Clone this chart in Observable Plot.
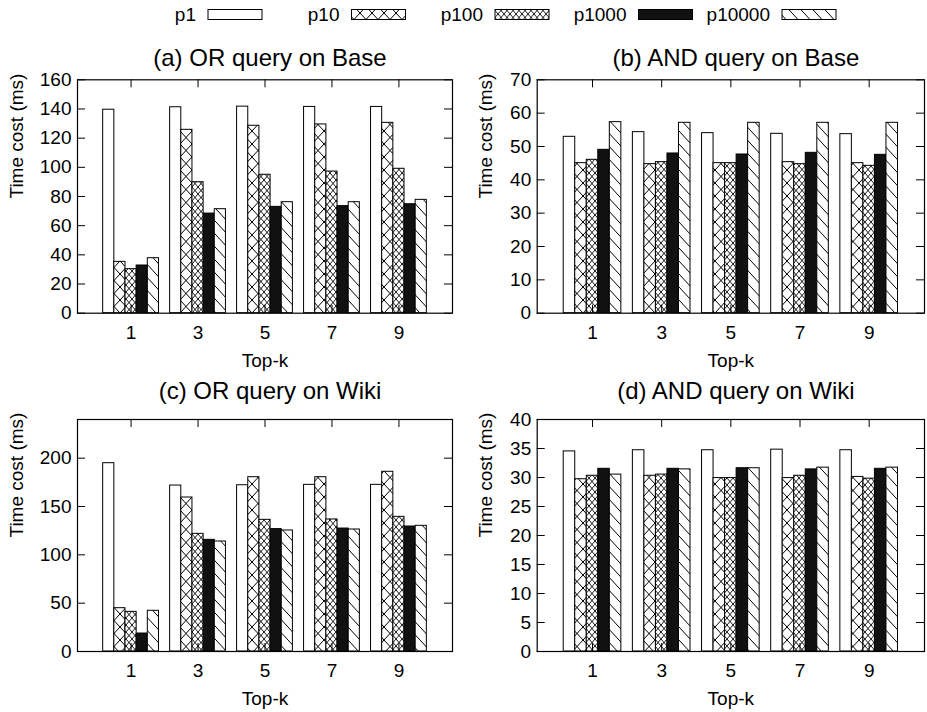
<!DOCTYPE html>
<html><head><meta charset="utf-8">
<script src="https://cdn.jsdelivr.net/npm/d3@7"></script>
<script src="https://cdn.jsdelivr.net/npm/@observablehq/plot@0.6"></script>
<style>
body{margin:0;background:#fff;}
#root{position:relative;width:927px;height:712px;font-family:"Liberation Sans",Arial,Helvetica,sans-serif;color:#000;}
#root svg{position:absolute;overflow:visible;}
</style></head><body><div id="root"></div>
<script>
// ---- data ----
const series = ["p1", "p10", "p100", "p1000", "p10000"];
const topK = ["1", "3", "5", "7", "9"];

// rows = series (p1..p10000), columns = top-k (1,3,5,7,9)
const orBase = [
  [139.5, 141.2, 141.6, 141.4, 141.4],
  [35.2, 125.7, 128.5, 129.4, 130.5],
  [30.2, 89.8, 94.9, 97.1, 99.0],
  [32.7, 68.3, 72.9, 73.4, 74.7],
  [37.7, 71.3, 76.1, 76.1, 77.7]
];
const andBase = [
  [52.9, 54.3, 54.0, 53.8, 53.7],
  [45.0, 44.7, 45.0, 45.3, 45.0],
  [46.0, 45.3, 45.0, 44.7, 44.2],
  [49.0, 47.9, 47.6, 48.1, 47.5],
  [57.3, 57.1, 57.1, 57.1, 57.1]
];
const orWiki = [
  [194.8, 171.7, 172.0, 172.4, 172.4],
  [44.8, 159.3, 180.3, 180.3, 185.9],
  [41.0, 121.7, 136.2, 136.6, 139.3],
  [18.6, 115.5, 126.6, 127.2, 129.3],
  [42.1, 113.8, 125.2, 126.2, 130.0]
];
const andWiki = [
  [34.5, 34.7, 34.7, 34.8, 34.7],
  [29.7, 30.3, 29.9, 29.9, 30.1],
  [30.3, 30.5, 29.9, 30.3, 29.8],
  [31.5, 31.5, 31.6, 31.4, 31.5],
  [30.5, 31.4, 31.6, 31.7, 31.7]
];
const ticksA = [0, 20, 40, 60, 80, 100, 120, 140, 160];
const ticksB = [0, 10, 20, 30, 40, 50, 60, 70];
const ticksC = [0, 50, 100, 150, 200];
const ticksD = [0, 5, 10, 15, 20, 25, 30, 35, 40];

// ---- styles ----
const fills = ["#fff", "url(#pat10)", "url(#pat100)", "#111", "url(#pat10000)"];
const FONT = '"Liberation Sans", Arial, Helvetica, sans-serif';
const root = document.getElementById("root");

// pattern defs
root.insertAdjacentHTML("beforeend", `
<svg width="0" height="0" style="position:absolute;left:0;top:0">
 <defs>
  <pattern id="pat10" patternUnits="userSpaceOnUse" width="12" height="13">
   <rect width="12" height="13" fill="#fff"/>
   <path d="M0,0L12,13M12,0L0,13" stroke="#000" stroke-width="1" fill="none"/>
  </pattern>
  <pattern id="pat100" patternUnits="userSpaceOnUse" width="6" height="7">
   <rect width="6" height="7" fill="#fff"/>
   <path d="M0,0L6,7M6,0L0,7" stroke="#000" stroke-width="0.9" fill="none"/>
  </pattern>
  <pattern id="pat10000" patternUnits="userSpaceOnUse" width="12" height="13">
   <rect width="12" height="13" fill="#fff"/>
   <path d="M0,0L12,13M-2,11L2,15M10,-2L14,2" stroke="#000" stroke-width="1" fill="none"/>
  </pattern>
 </defs>
</svg>`);

function toRows(table) {
  const out = [];
  table.forEach((vals, s) => vals.forEach((v, i) => {
    out.push({s, i, v, x1: i - 5 / 12 + s / 6, x2: i - 5 / 12 + (s + 1) / 6});
  }));
  return out;
}

function panel({table, yMax, yTicks, title, left, top, width, height, ml, mr, mt, mb, titleDy, ylabDx}) {
  const rows = toRows(table);
  const fw = width - ml - mr;
  const fh = height - mt - mb;
  const marks = [];
  series.forEach((name, s) => {
    marks.push(Plot.rectY(rows.filter(d => d.s === s), {
      x1: "x1", x2: "x2", y: "v", fill: fills[s], stroke: "#000", strokeWidth: 1
    }));
  });
  marks.push(
    Plot.frame({stroke: "#000", strokeWidth: 1.2}),
    Plot.tickY(yTicks, {y: d => d, insetRight: fw - 8, stroke: "#000"}),
    Plot.tickY(yTicks, {y: d => d, insetLeft: fw - 8, stroke: "#000"}),
    Plot.tickX([0, 1, 2, 3, 4], {x: d => d, insetBottom: fh - 8, stroke: "#000"}),
    Plot.tickX([0, 1, 2, 3, 4], {x: d => d, insetTop: fh - 8, stroke: "#000"}),
    Plot.axisY(yTicks, {tickSize: 0, tickPadding: 6, label: null, fontSize: 19, fill: "#000"}),
    Plot.axisX([0, 1, 2, 3, 4], {tickSize: 0, tickPadding: 12, label: null, fontSize: 19, fill: "#000", tickFormat: i => topK[i]}),
    Plot.text([title], {frameAnchor: "top", dx: 5, dy: titleDy, lineAnchor: "bottom", fontSize: 24, fill: "#000"}),
    Plot.text(["Top-k"], {frameAnchor: "bottom", dy: 53.3, lineAnchor: "bottom", fontSize: 19, fill: "#000"}),
    Plot.text(["Time cost (ms)"], {frameAnchor: "left", rotate: -90, dx: ylabDx, dy: 2, lineAnchor: "bottom", fontSize: 19, fill: "#000"})
  );
  const svg = Plot.plot({
    width, height,
    marginLeft: ml, marginRight: mr, marginTop: mt, marginBottom: mb,
    x: {type: "linear", domain: [-0.8, 4.8], axis: null},
    y: {type: "linear", domain: [0, yMax], axis: null},
    style: {fontFamily: FONT, fontSize: "19px", color: "#000", background: "transparent", overflow: "visible"},
    marks
  });
  svg.style.left = left + "px";
  svg.style.top = top + "px";
  root.appendChild(svg);
}

const L = {left: 0, width: 463, ml: 77, mr: 11, ylabDx: -55};
const R = {left: 463, width: 464, ml: 73.7, mr: 3, ylabDx: -45};
const T = {top: 40, height: 340, mt: 39.3, mb: 67.3, titleDy: -14.3};
const B = {top: 380, height: 332, mt: 39, mb: 61, titleDy: -20.7};

panel({...L, ...T, table: orBase, yMax: 160, yTicks: ticksA, title: "(a) OR query on Base"});
panel({...R, ...T, table: andBase, yMax: 70, yTicks: ticksB, title: "(b) AND query on Base"});
panel({...L, ...B, table: orWiki, yMax: 240, yTicks: ticksC, title: "(c) OR query on Wiki"});
panel({...R, ...B, table: andWiki, yMax: 40, yTicks: ticksD, title: "(d) AND query on Wiki"});

// ---- legend ----
const leg = d3.select(root).append("svg")
  .attr("width", 927).attr("height", 34)
  .style("left", "0px").style("top", "0px")
  .style("font-family", FONT).style("font-size", "19px");
const legX0 = 208, legStep = 143.5, boxW = 54, boxH = 10;
series.forEach((name, s) => {
  const x = legX0 + s * legStep;
  leg.append("text").attr("x", x - 12).attr("y", 21).attr("text-anchor", "end").attr("fill", "#000").text(name);
  leg.append("rect").attr("x", x).attr("y", 9.5).attr("width", boxW).attr("height", boxH)
    .attr("fill", fills[s]).attr("stroke", "#000").attr("stroke-width", 1);
});
</script>
</body></html>
